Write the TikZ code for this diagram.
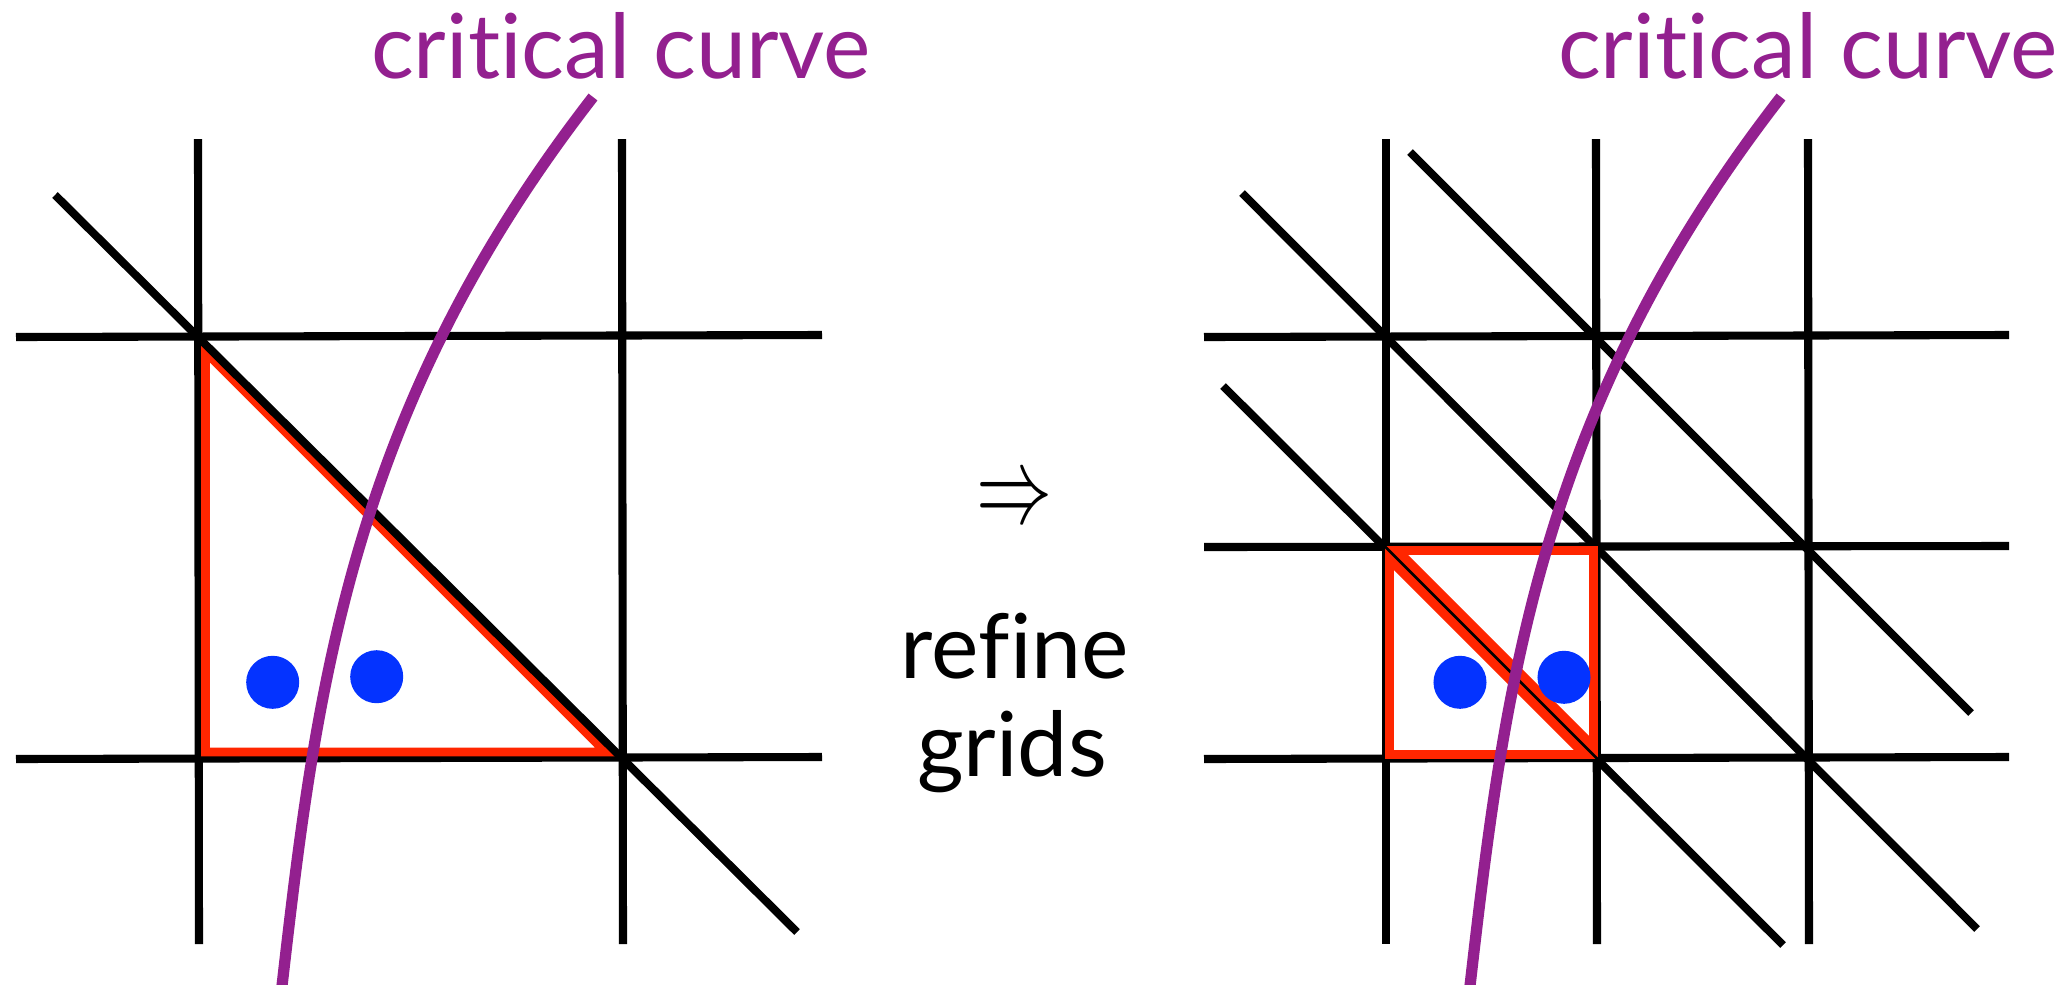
\documentclass[tikz,border=0pt]{standalone}
\usepackage{fontspec}
\setmainfont[Ligatures=NoCommon]{Lato}
\usepackage{graphicx}
\definecolor{critpurple}{RGB}{147,32,143}
\definecolor{cellred}{RGB}{255,38,0}
\definecolor{ptblue}{RGB}{4,51,255}
\begin{document}
\begin{tikzpicture}[x=0.01cm,y=-0.01cm,
  gridline/.style={line width=2.3pt, black},
  redtri/.style={line width=2.5pt, cellred, line join=miter, miter limit=10},
  critline/.style={line width=3.2pt, critpurple},
  ptdot/.style={circle, fill=ptblue, inner sep=0pt, minimum size=0.53cm},
  critlabel/.style={text=critpurple, font=\fontsize{25.5}{30}\selectfont, anchor=base, inner sep=0pt},
  midtext/.style={font=\fontsize{25.5}{30}\selectfont, anchor=base, inner sep=0pt}]
\useasboundingbox (0,0) rectangle (2068,984);

% ---------- left panel ----------
\coordinate (Lv1t) at (198,139);  \coordinate (Lv1b) at (199,944);
\coordinate (Lv2t) at (622,139);  \coordinate (Lv2b) at (623,944);
\coordinate (Lh1l) at (16,337);   \coordinate (Lh1r) at (822,335);
\coordinate (Lh2l) at (16,759);   \coordinate (Lh2r) at (822,757);
\coordinate (Ldt) at (55,195);    \coordinate (Ldb) at (797,932);

\draw[gridline] (Lv1t) -- (Lv1b);
\draw[gridline] (Lv2t) -- (Lv2b);
\draw[gridline] (Lh1l) -- (Lh1r);
\draw[gridline] (Lh2l) -- (Lh2r);

\coordinate (Lra) at (205.5,352);
\coordinate (Lrb) at (205.5,752);
\coordinate (Lrc) at (605.5,752);
\draw[redtri] (Lra) -- (Lrb) -- (Lrc) -- cycle;
\draw[gridline] (Ldt) -- (Ldb);

\node[ptdot] (Lp1) at (272.7,682.3) {};
\node[ptdot] (Lp2) at (376.7,676.7) {};

\coordinate (Lcb) at (282,986);
\coordinate (Lct) at (593,97);
\draw[critline] (Lcb) .. controls (316,690) and (350,410) .. (Lct);
\node[critlabel] (Llab) at (621,78) {critical curve};

% ---------- middle ----------
\node[inner sep=0pt] (arrow) at (1015,502) {\resizebox{0.76cm}{0.40cm}{$\Rightarrow$}};
\node[midtext] (refine) at (1015,678) {refine};
\node[midtext] (grids) at (1012,776) {grids};

% ---------- right panel ----------
\coordinate (Rv1t) at (1386,139); \coordinate (Rv1b) at (1386,944);
\coordinate (Rv2t) at (1596,139); \coordinate (Rv2b) at (1597,944);
\coordinate (Rv3t) at (1808,139); \coordinate (Rv3b) at (1809,944);
\coordinate (Rh1l) at (1204,337); \coordinate (Rh1r) at (2009,335);
\coordinate (Rh2l) at (1204,547); \coordinate (Rh2r) at (2009,546);
\coordinate (Rh3l) at (1204,759); \coordinate (Rh3r) at (2009,757);
\coordinate (Rd1t) at (1410,152); \coordinate (Rd1b) at (1971,713);
\coordinate (Rd2t) at (1242,193); \coordinate (Rd2b) at (1977,929);
\coordinate (Rd3t) at (1223,386); \coordinate (Rd3b) at (1783,945);

\draw[gridline] (Rv1t) -- (Rv1b);
\draw[gridline] (Rv2t) -- (Rv2b);
\draw[gridline] (Rv3t) -- (Rv3b);
\draw[gridline] (Rh1l) -- (Rh1r);
\draw[gridline] (Rh2l) -- (Rh2r);
\draw[gridline] (Rh3l) -- (Rh3r);
\draw[gridline] (Rd1t) -- (Rd1b);
\draw[gridline] (Rd2t) -- (Rd2b);
\draw[gridline] (Rd3t) -- (Rd3b);

\coordinate (Rla) at (1389.5,559.3);
\coordinate (Rlb) at (1389.5,754.5);
\coordinate (Rlc) at (1584.7,754.5);
\draw[redtri] (Rla) -- (Rlb) -- (Rlc) -- cycle;
\coordinate (Rua) at (1397.3,550.5);
\coordinate (Rub) at (1593.5,550.5);
\coordinate (Ruc) at (1593.5,746.7);
\draw[redtri] (Rua) -- (Rub) -- (Ruc) -- cycle;

\node[ptdot] (Rp1) at (1460,682.3) {};
\node[ptdot] (Rp2) at (1564,677.3) {};

\coordinate (Rcb) at (1470,986);
\coordinate (Rct) at (1781,97);
\draw[critline] (Rcb) .. controls (1504,690) and (1538,410) .. (Rct);
\node[critlabel] (Rlab) at (1808,78) {critical curve};
\end{tikzpicture}
\end{document}
